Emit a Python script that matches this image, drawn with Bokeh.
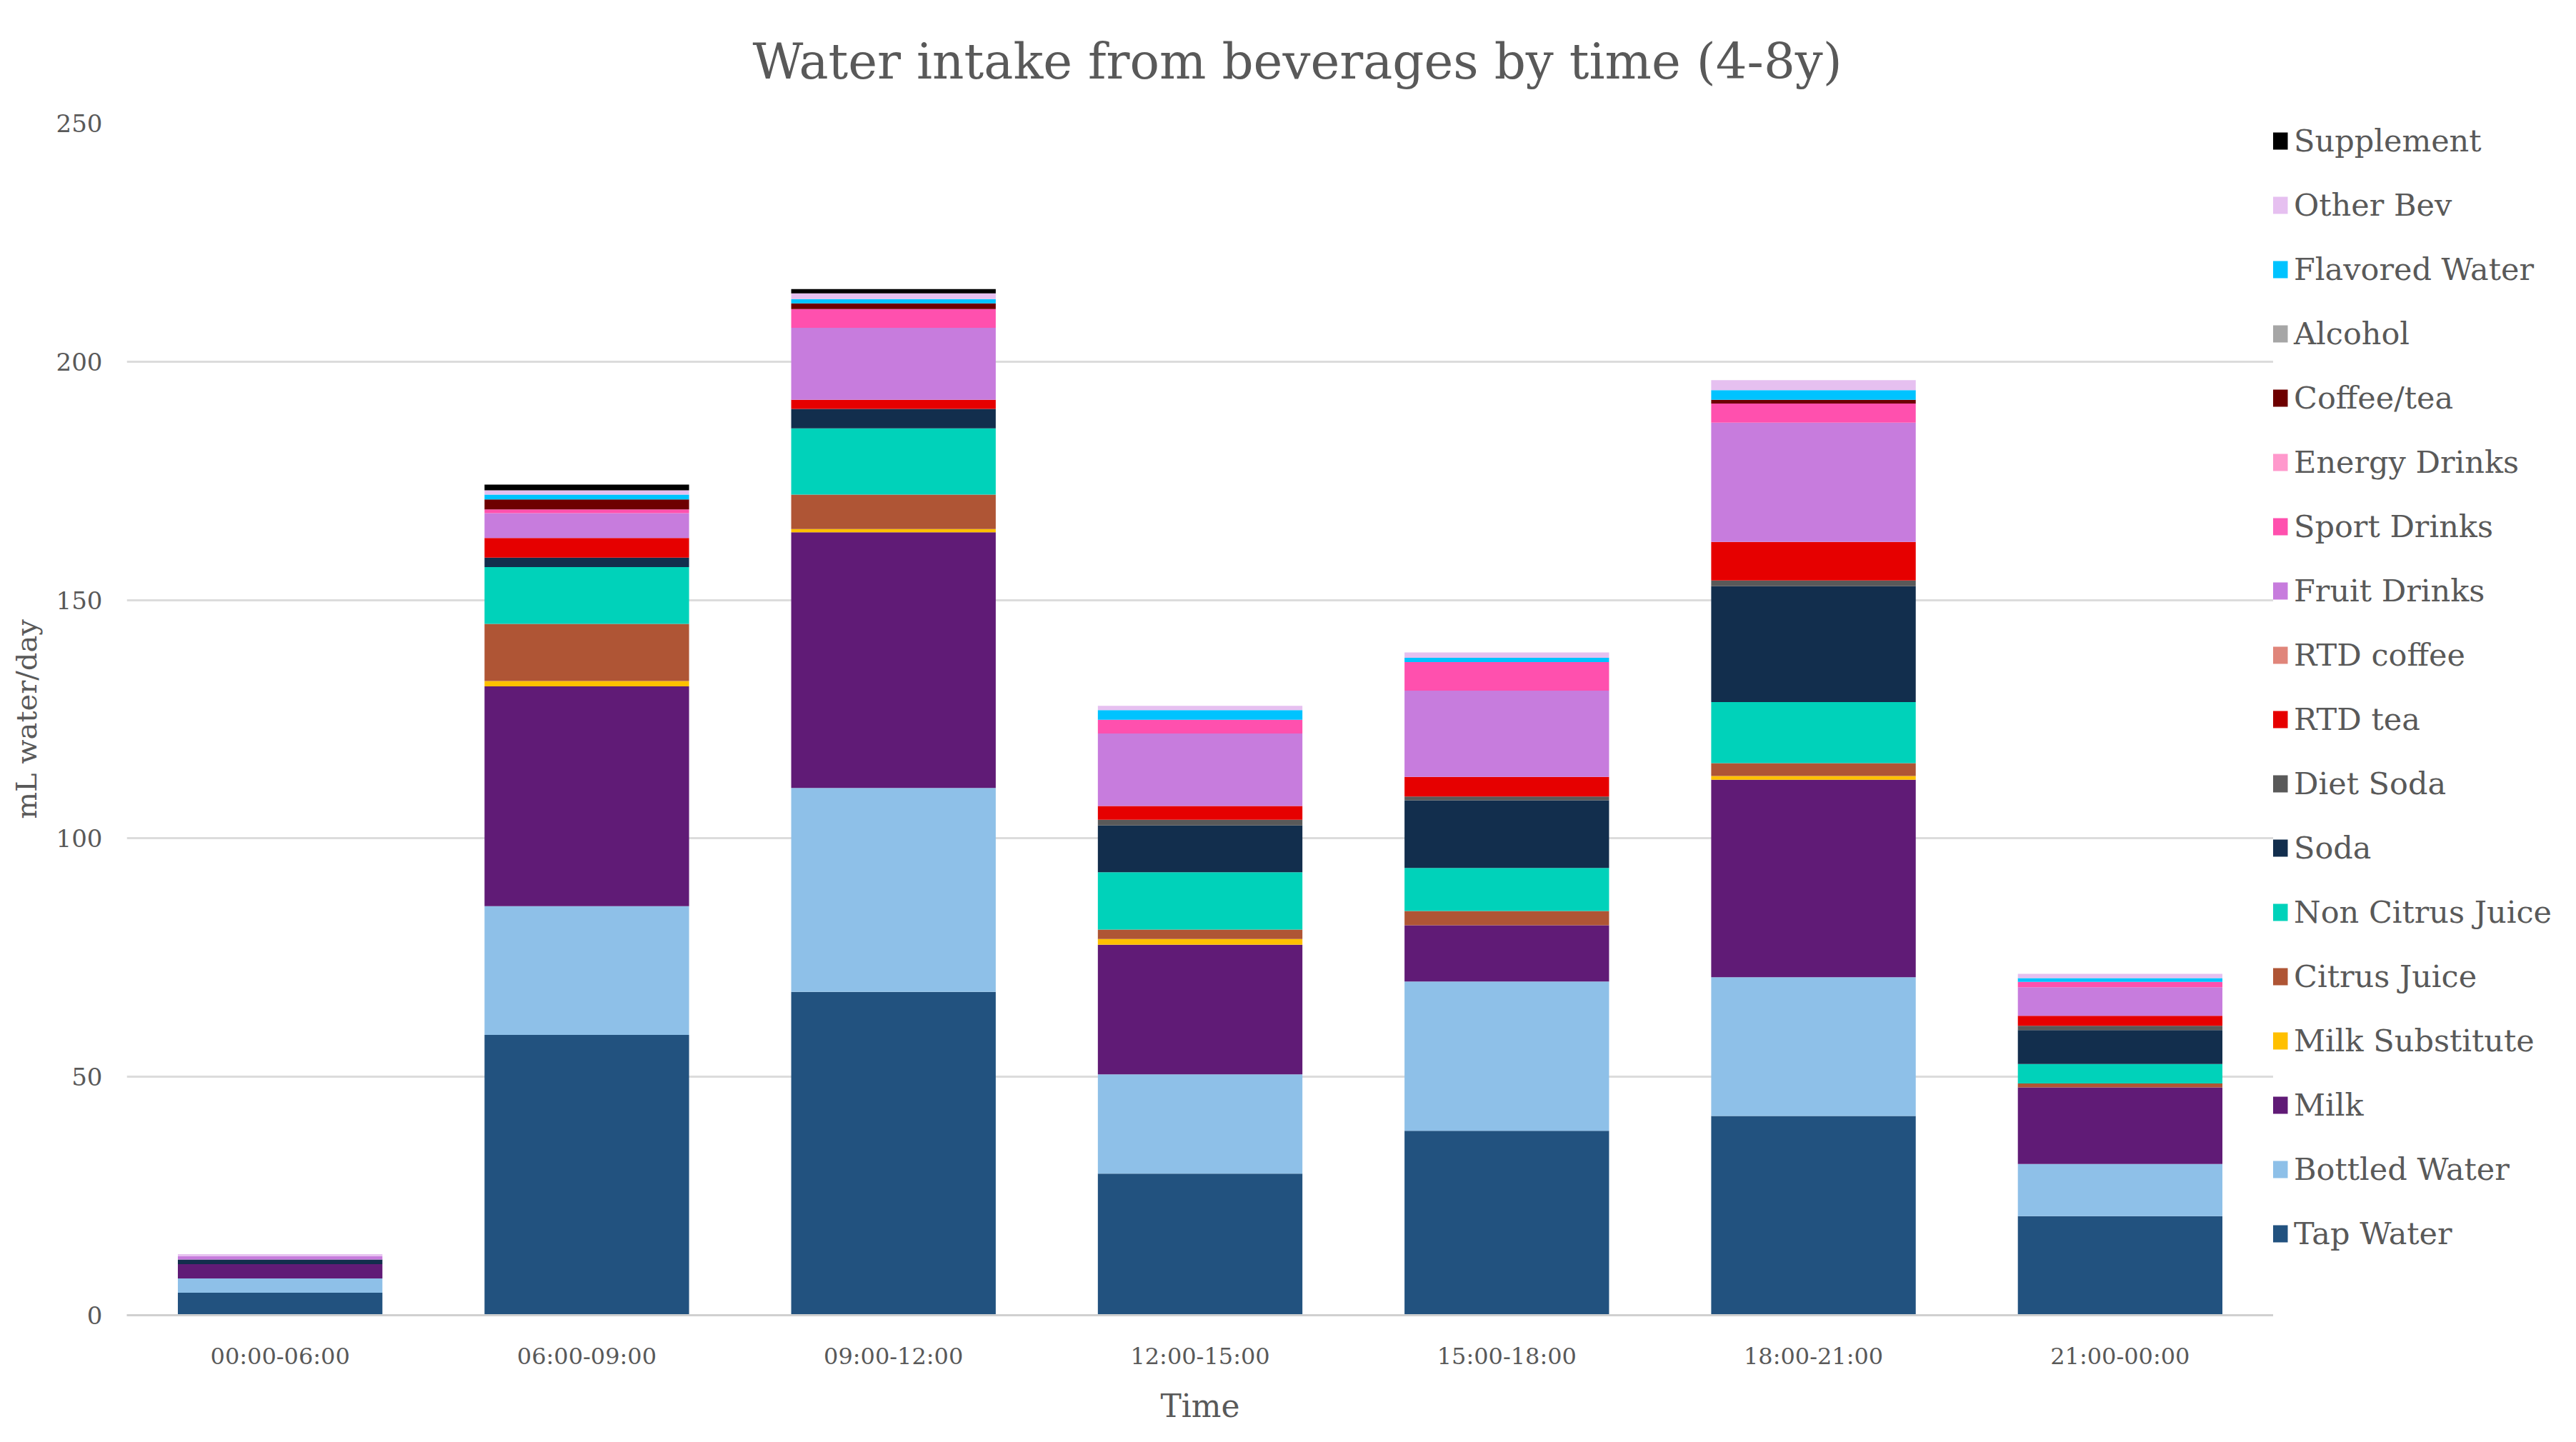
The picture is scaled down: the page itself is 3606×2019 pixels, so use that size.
from bokeh.plotting import figure
from bokeh.models import FactorRange, Range1d, FixedTicker, Legend, LegendItem
from bokeh.layouts import row
from bokeh.embed import file_html
from bokeh.resources import INLINE

categories = ["00:00-06:00", "06:00-09:00", "09:00-12:00", "12:00-15:00",
              "15:00-18:00", "18:00-21:00", "21:00-00:00"]

tap_water        = [4.7, 58.8, 67.8, 29.7, 38.7, 41.8, 20.8]
bottled_water    = [3.0, 27.0, 42.8, 20.8, 31.3, 29.1, 10.9]
milk             = [3.0, 46.1, 53.6, 27.2, 11.8, 41.4, 16.1]
milk_substitute  = [0.0, 1.1, 0.7, 1.2, 0.0, 0.8, 0.0]
citrus_juice     = [0.0, 12.0, 7.2, 2.0, 3.0, 2.7, 0.8]
non_citrus_juice = [0.0, 11.9, 13.9, 12.0, 9.0, 12.8, 4.1]
soda             = [1.0, 2.0, 4.1, 9.8, 14.2, 24.3, 7.1]
diet_soda        = [0.0, 0.0, 0.0, 1.2, 0.8, 1.2, 0.9]
rtd_tea          = [0.0, 4.1, 1.9, 2.9, 4.1, 8.1, 2.1]
rtd_coffee       = [0.0, 0.0, 0.0, 0.0, 0.0, 0.0, 0.0]
fruit_drinks     = [0.7, 5.2, 15.1, 15.2, 18.1, 25.0, 6.0]
sport_drinks     = [0.0, 0.8, 3.9, 2.9, 6.0, 4.0, 1.1]
energy_drinks    = [0.0, 0.0, 0.0, 0.0, 0.0, 0.0, 0.0]
coffee_tea       = [0.0, 2.1, 1.2, 0.0, 0.0, 0.8, 0.0]
alcohol          = [0.0, 0.0, 0.0, 0.0, 0.0, 0.0, 0.0]
flavored_water   = [0.0, 1.0, 0.9, 2.0, 0.9, 2.0, 0.8]
other_bev        = [0.4, 0.9, 1.2, 0.9, 1.1, 2.1, 0.9]
supplement       = [0.0, 1.2, 0.9, 0.0, 0.0, 0.0, 0.0]

series_names = ["Tap Water", "Bottled Water", "Milk", "Milk Substitute", "Citrus Juice",
                "Non Citrus Juice", "Soda", "Diet Soda", "RTD tea", "RTD coffee",
                "Fruit Drinks", "Sport Drinks", "Energy Drinks", "Coffee/tea", "Alcohol",
                "Flavored Water", "Other Bev", "Supplement"]
series_values = [tap_water, bottled_water, milk, milk_substitute, citrus_juice,
                 non_citrus_juice, soda, diet_soda, rtd_tea, rtd_coffee,
                 fruit_drinks, sport_drinks, energy_drinks, coffee_tea, alcohol,
                 flavored_water, other_bev, supplement]
colors = ["#22527F", "#8EC0E8", "#601B76", "#FFC000", "#AF5535",
          "#00D2BA", "#122E4D", "#595959", "#E60000", "#E0857A",
          "#C77CDD", "#FF50AE", "#FF99CC", "#6E0000", "#A6A6A6",
          "#00C3FF", "#E6C0F0", "#000000"]

y_ticks = [0, 50, 100, 150, 200, 250]

FONT = "DejaVu Serif"
GRAY = "#595959"
H = 2003

keys = ["s%d" % i for i in range(len(series_names))]
source = {"cat": categories}
for k, v in zip(keys, series_values):
    source[k] = v

# main chart
p = figure(x_range=FactorRange(*categories), y_range=Range1d(0, 250),
           width=3182, height=H, output_backend="svg", toolbar_location=None,
           min_border_left=177, min_border_top=171, min_border_bottom=162,
           min_border_right=0,
           title="Water intake from beverages by time (4-8y)")

p.vbar_stack(keys, x="cat", width=0.667, color=colors, line_color=None, source=source)

p.title.text_font = FONT
p.title.text_font_size = "69px"
p.title.text_font_style = "normal"
p.title.text_color = GRAY
p.title.align = "left"
p.title.offset = 876
p.title.vertical_align = "top"
p.title.standoff = 90

p.outline_line_color = None
p.xgrid.grid_line_color = None
p.ygrid.grid_line_color = "#DCDCDC"
p.ygrid.grid_line_width = 3
p.yaxis.ticker = FixedTicker(ticks=y_ticks)

for ax in (p.xaxis[0], p.yaxis[0]):
    ax.major_tick_line_color = None
    ax.minor_tick_line_color = None
    ax.major_tick_out = 0
    ax.major_tick_in = 0
    ax.minor_tick_out = 0
    ax.minor_tick_in = 0
    ax.major_label_text_font = FONT
    ax.major_label_text_color = GRAY
    ax.axis_label_text_font = FONT
    ax.axis_label_text_font_style = "normal"
    ax.axis_label_text_color = GRAY

p.yaxis.axis_line_color = None
p.yaxis.major_label_text_font_size = "34px"
p.yaxis.major_label_standoff = 34
p.yaxis.axis_label = "mL water/day"
p.yaxis.axis_label_text_font_size = "40px"
p.yaxis.axis_label_standoff = 16

p.xaxis.axis_line_color = "#D0D0D0"
p.xaxis.axis_line_width = 3
p.xaxis.major_label_text_font_size = "32px"
p.xaxis.major_label_standoff = 38
p.xaxis.axis_label = "Time"
p.xaxis.axis_label_text_font_size = "44px"
p.xaxis.axis_label_standoff = 22

# legend panel
q = figure(width=3590 - 3182, height=H, output_backend="svg", toolbar_location=None,
           x_range=Range1d(0, 1), y_range=Range1d(0, 1),
           x_axis_type=None, y_axis_type=None,
           min_border_left=0, min_border_right=0, min_border_top=0, min_border_bottom=0)
q.outline_line_color = None
q.xgrid.visible = False
q.ygrid.visible = False

# one off-range point per swatch so that each legend glyph has a colour to draw
swatches = [q.vbar(x=[10], top=[10], bottom=[9], width=0.5, color=c, line_color=None)
            for c in colors]
items = [LegendItem(label=n, renderers=[r]) for n, r in zip(series_names, swatches)]
legend = Legend(items=list(reversed(items)), location=(-7, 89), ncols=1,
                label_text_font=FONT, label_text_font_size="43px",
                label_text_color=GRAY, glyph_width=30, glyph_height=30,
                label_standoff=6, label_height=50, spacing=40,
                padding=0, margin=0, border_line_color=None,
                background_fill_alpha=0)
q.add_layout(legend, "center")

layout = row(p, q)
open("out.html", "w").write(file_html(layout, INLINE))
